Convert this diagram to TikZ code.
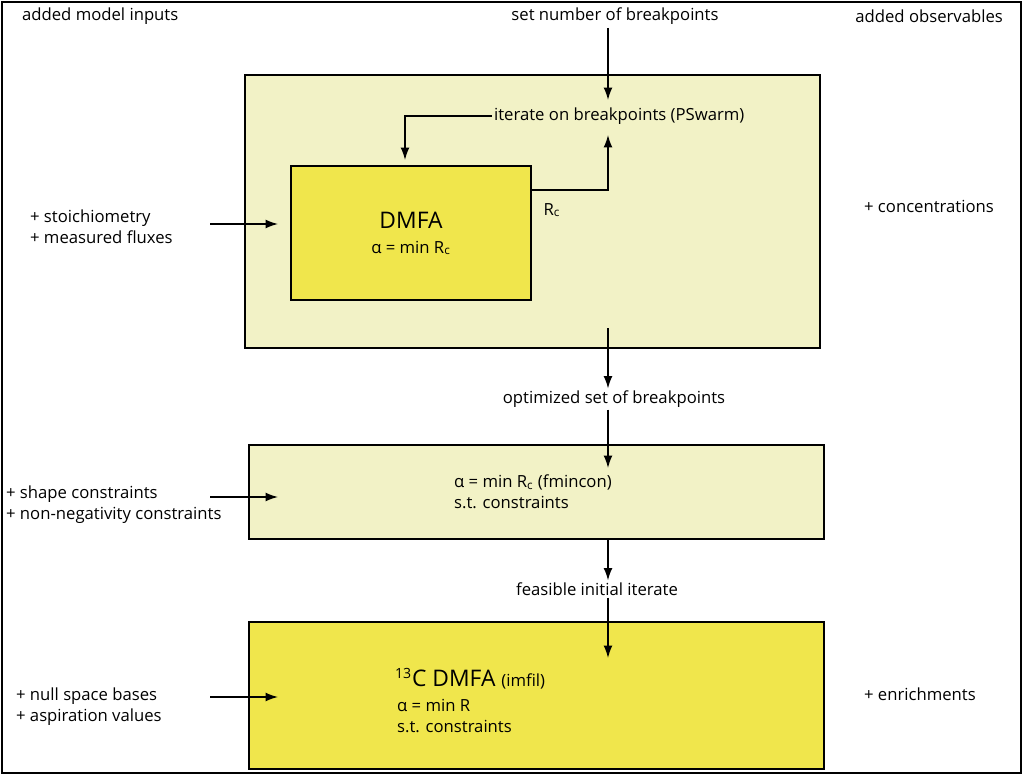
\documentclass[tikz,border=0pt]{standalone}
\usepackage{fontspec}
\setmainfont{Open Sans}
\usetikzlibrary{positioning,arrows.meta}
\definecolor{paleyel}{HTML}{F2F2C6}
\definecolor{strongyel}{HTML}{F0E64C}

\begin{document}
\begin{tikzpicture}[
    x=0.02cm, y=-0.02cm,
    every node/.style={font=\fontsize{9.5}{12}\selectfont, inner sep=1pt},
    box/.style={draw, thick, inner sep=0pt},
    flow/.style={-{Latex[length=7pt,width=5pt]}, thick},
    side/.style={align=left, anchor=west}
]
\useasboundingbox (0,0) rectangle (1024,777);
\draw[thick] (2,2) rectangle (1021,773);

% boxes
\draw[box, fill=paleyel] (245,75) rectangle (820,348);
\draw[box, fill=strongyel] (291,166) rectangle (531,300);
\draw[box, fill=paleyel] (249,445) rectangle (824,539);
\draw[box, fill=strongyel] (249,622) rectangle (824,769);

% headings
\node[anchor=west] (inputs) at (20,16) {added model inputs};
\node (setbp) at (615,16) {set number of breakpoints};
\node[anchor=east] (observ) at (1005,16) {added observables};

% first stage
\node[anchor=west] (iter) at (492,116) {iterate on breakpoints (PSwarm)};
\node[font=\fontsize{13}{15}\selectfont] (dmfa) at (411,220) {DMFA};
\node (alpha1) at (411,248) {α = min R\textsubscript{c}};
\node (rc) at (552,210) {R\textsubscript{c}};
\coordinate (dmfaout) at (531,190);
\coordinate (dmfain) at (405,160);
\node[side] (stoich) at (28,227) {+ stoichiometry\\+ measured fluxes};
\node[side] (conc) at (862,206) {+ concentrations};
\coordinate (in1) at (210,224);
\coordinate (to1) at (278,224);

\draw[flow] (608,28) -- (608,100);
\draw[flow] (iter.west) -| (dmfain);
\draw[flow] (dmfaout) -| (608,135);
\draw[flow] (in1) -- (to1);

% second stage
\node (optbp) at (614,399) {optimized set of breakpoints};
\node[anchor=west, align=left] (fmin) at (452,492) {α = min R\textsubscript{c} (fmincon)\\s.t. constraints};
\node[side] (shape) at (4,505) {+ shape constraints\\+ non-negativity constraints};
\coordinate (in2) at (210,497);
\coordinate (to2) at (278,497);

\draw[flow] (608,328) -- (optbp.north -| 608,0);
\draw[flow] (optbp.south -| 608,0) -- (608,468);
\draw[flow] (in2) -- (to2);

% third stage
\node (feas) at (597,589) {feasible initial iterate};
\node[anchor=west, font=\fontsize{13}{15}\selectfont] (cdmfa) at (393,679) {\textsuperscript{\fontsize{8}{9}\selectfont 13}C DMFA {\fontsize{9.5}{12}\selectfont (imfil)}};
\node[anchor=west, align=left] (alpha3) at (395,716) {α = min R\\s.t. constraints};
\node[side] (nulls) at (14,707) {+ null space bases\\+ aspiration values};
\node[side] (enrich) at (862,694) {+ enrichments};
\coordinate (in3) at (210,697);
\coordinate (to3) at (278,697);

\draw[flow] (608,540) -- (feas.north -| 608,0);
\draw[flow] (feas.south -| 608,0) -- (608,658);
\draw[flow] (in3) -- (to3);
\end{tikzpicture}
\end{document}
